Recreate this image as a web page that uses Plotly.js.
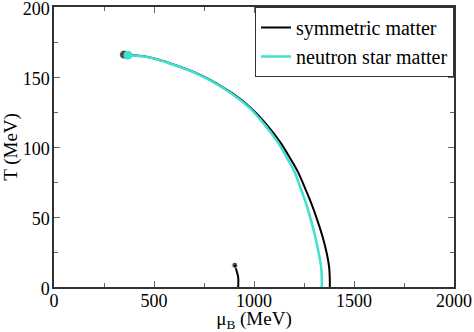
<!DOCTYPE html>
<html>
<head>
<meta charset="utf-8">
<script src="https://cdn.plot.ly/plotly-3.0.1.min.js"></script>
<style>
  html, body { margin: 0; padding: 0; background: white; }
  #chart { width: 474px; height: 332px; }
</style>
</head>
<body>
<div id="chart"></div>
<script>
// symmetric matter: transition line (mu_B, T) in MeV
const symMu = [350, 480, 563, 729, 894, 979, 1059, 1129, 1179, 1219, 1254, 1289, 1319, 1344, 1364, 1376, 1379, 1379];
const symT  = [166, 164.0, 160.6, 151.7, 138.1, 128.5, 116.7, 103.8, 92.4, 82.4, 71.0, 58.9, 46.7, 35.3, 23.9, 13.9, 5.4, 0];

// symmetric matter: low temperature branch
const lgMu = [904, 914, 921, 921];
const lgT  = [15.6, 11.1, 6.8, 0];

// neutron star matter
const nsMu = [370, 478, 558, 724, 889, 974, 1049, 1117, 1164, 1202, 1232, 1262, 1287, 1307, 1324, 1336, 1339, 1339];
const nsT  = [165.6, 164.0, 160.6, 151.7, 138.1, 128.5, 116.7, 103.8, 92.4, 82.4, 71.0, 58.9, 46.7, 35.3, 23.9, 13.9, 5.4, 0];

const BLACK = '#000000';
const CYAN = '#40E0D0';
const FONT = 'Times New Roman, Times, Liberation Serif, Tinos, serif';

const data = [
  {
    type: 'scatter', mode: 'lines', name: 'symmetric matter',
    x: symMu, y: symT,
    line: { color: BLACK, width: 2, shape: 'spline', smoothing: 1 },
  },
  {
    type: 'scatter', mode: 'lines', showlegend: false,
    x: lgMu, y: lgT,
    line: { color: BLACK, width: 2, shape: 'spline', smoothing: 1 },
  },
  {
    type: 'scatter', mode: 'markers', showlegend: false,
    x: [symMu[0], lgMu[0]], y: [symT[0], lgT[0]],
    marker: { color: BLACK, size: [9, 6] },
  },
  {
    type: 'scatter', mode: 'lines', name: 'neutron star matter',
    x: nsMu, y: nsT,
    line: { color: CYAN, width: 2.5, shape: 'spline', smoothing: 1 },
  },
  {
    type: 'scatter', mode: 'markers', showlegend: false,
    x: [nsMu[0]], y: [nsT[0]],
    marker: { color: CYAN, size: 9 },
  },
];

const axisCommon = {
  showline: true, mirror: 'ticks', linecolor: '#333', linewidth: 1.5,
  ticks: 'inside', ticklen: 6, tickwidth: 1, tickcolor: '#666',
  showgrid: false, zeroline: false, ticklabeloverflow: 'allow',
  tickfont: { family: FONT, size: 18, color: '#000' },
};

const layout = {
  width: 474, height: 332,
  margin: { l: 54, r: 20, t: 7, b: 45 },
  paper_bgcolor: 'white', plot_bgcolor: 'white',
  font: { family: FONT, color: '#000' },
  showlegend: true,
  legend: {
    x: 1, xanchor: 'right', y: 1, yanchor: 'top',
    bgcolor: 'white', bordercolor: '#333', borderwidth: 1,
    font: { family: FONT, size: 20, color: '#000' },
    tracegroupgap: 0,
  },
  xaxis: {
    ...axisCommon,
    range: [0, 2000], dtick: 500, ticklabelstandoff: -3,
    minor: { ticks: 'inside', dtick: 250, ticklen: 4, tickcolor: '#666' },
    title: { text: 'μ<sub>B</sub> (MeV)', font: { family: FONT, size: 19 }, standoff: 9 },
  },
  yaxis: {
    ...axisCommon,
    range: [0, 200], dtick: 50, ticklabelstandoff: -1, ticklabelshift: 2,
    minor: { ticks: 'inside', dtick: 25, ticklen: 4, tickcolor: '#666' },
    title: { text: 'T (MeV)', font: { family: FONT, size: 19 }, standoff: 6 },
  },
};

Plotly.newPlot('chart', data, layout, { displayModeBar: false, responsive: false });
</script>
</body>
</html>
